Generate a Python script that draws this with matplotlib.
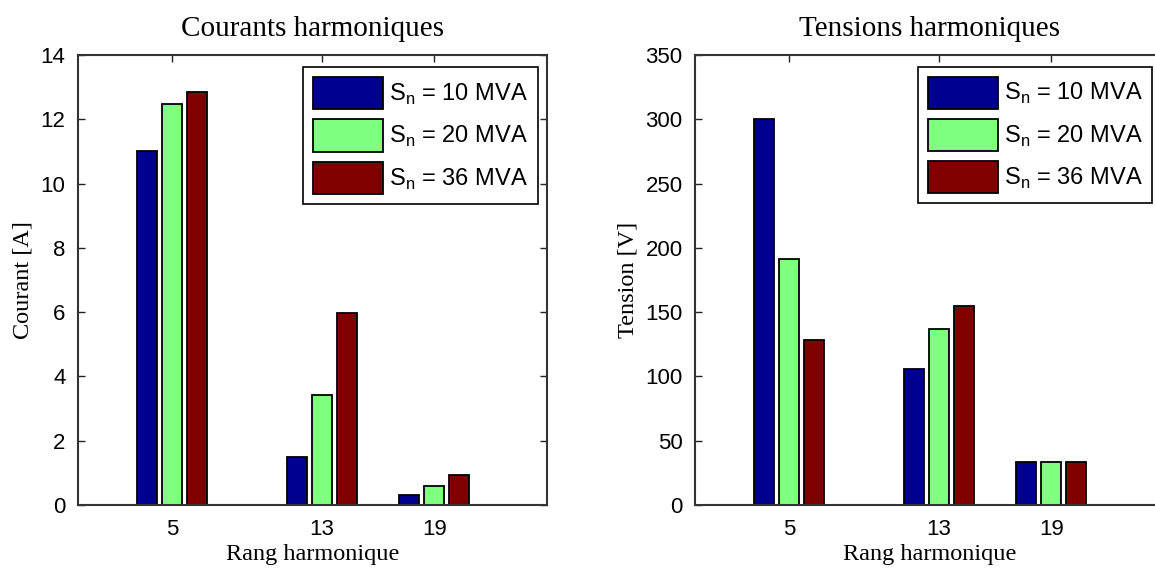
import numpy as np
import matplotlib
matplotlib.use("Agg")
import matplotlib.pyplot as plt

# ---- data ----
rangs = [5, 13, 19]
series_labels = [r"S$_{\mathregular{n}}$ = 10 MVA",
                 r"S$_{\mathregular{n}}$ = 20 MVA",
                 r"S$_{\mathregular{n}}$ = 36 MVA"]
courant_10 = [11.0, 1.5, 0.32]
courant_20 = [12.47, 3.41, 0.59]
courant_36 = [12.85, 5.96, 0.92]
tension_10 = [300.5, 105.5, 33.8]
tension_20 = [191.0, 136.8, 33.8]
tension_36 = [128.7, 154.5, 33.8]

colors = ["#00008F", "#80FF80", "#800000"]

W, H = 1155, 568
fig = plt.figure(figsize=(W / 100, H / 100), dpi=100)
fig.patch.set_facecolor("white")

tick_font = "Liberation Sans"
text_font = "Liberation Serif"

ax_w = 469 / W
ax_h = 450 / H
ax_b = 1 - 505 / H
axL = fig.add_axes([78 / W, ax_b, ax_w, ax_h])
axR = fig.add_axes([695 / W, ax_b, ax_w, ax_h])

spacing = 6.0
group_w = spacing * 3 / 4.5
slot = group_w / 3
bar_w = slot * 0.8
offsets = [-slot, 0.0, slot]

def draw(ax, datasets, title, ylabel, ymax, ystep, leg_anchor):
    x = np.array(rangs, dtype=float)
    for i, (vals, col, lab) in enumerate(zip(datasets, colors, series_labels)):
        ax.bar(x + offsets[i], vals, width=bar_w, color=col, edgecolor="black",
               linewidth=1.3, label=lab, zorder=2)
    ax.set_xlim(0, 25)
    ax.set_ylim(0, ymax)
    ax.set_xticks(rangs)
    ax.set_yticks(np.arange(0, ymax + ystep / 2, ystep))
    ax.tick_params(direction="in", top=True, right=True, length=5, width=1.0,
                   colors="#222222", labelsize=16, pad=9)
    ax.tick_params(axis="x", pad=10)
    for lbl in ax.get_xticklabels() + ax.get_yticklabels():
        lbl.set_fontfamily(tick_font)
        lbl.set_color("black")
    for s in ax.spines.values():
        s.set_linewidth(1.5)
        s.set_color("#333333")
    ax.set_title(title, fontfamily=text_font, fontsize=21, pad=13.5)
    ax.set_xlabel("Rang harmonique", fontfamily=text_font, fontsize=17.5, labelpad=3)
    ax.set_ylabel(ylabel, fontfamily=text_font, fontsize=17.5, labelpad=5)
    leg = ax.legend(loc="upper right", bbox_to_anchor=leg_anchor,
                    borderaxespad=0, fancybox=False, framealpha=1,
                    edgecolor="black", prop={"family": tick_font, "size": 17},
                    handlelength=2.97, handleheight=1.71, labelspacing=0.44,
                    handletextpad=0.25, borderpad=0.42)
    leg.get_frame().set_linewidth(1.2)

draw(axL, [courant_10, courant_20, courant_36], "Courants harmoniques",
     "Courant [A]", 14, 2, (0.981, 0.973))
draw(axR, [tension_10, tension_20, tension_36], "Tensions harmoniques",
     "Tension [V]", 350, 50, (0.975, 0.974))

fig.savefig("out.png", dpi=100, facecolor="white")
